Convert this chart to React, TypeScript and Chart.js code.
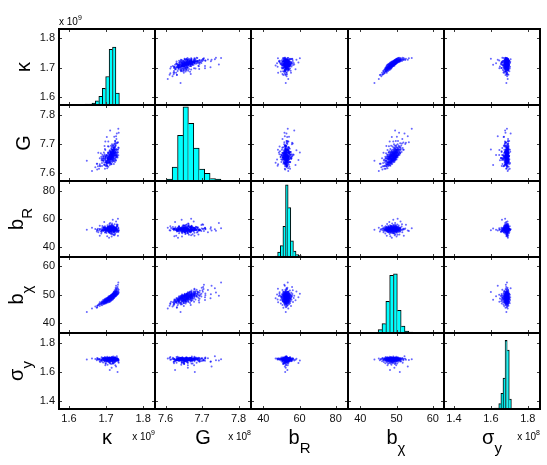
import { useEffect, useRef } from "react";
import { Chart, registerables } from "chart.js";

Chart.register(...registerables);

// Axis limits and ticks for the five parameters
// (kappa in units of 1e9, G in units of 1e8, b_R, b_chi, sigma_y in units of 1e8)
const AXIS_MIN = [1.573, 7.571, 33.2, 36.6, 1.346];
const AXIS_MAX = [1.832, 7.834, 86.8, 63.1, 1.866];
const KAPPA_TICKS = [1.6, 1.7, 1.8];
const G_TICKS = [7.6, 7.7, 7.8];
const BR_TICKS = [40, 60, 80];
const BCHI_TICKS = [40, 50, 60];
const SIGMA_TICKS = [1.4, 1.6, 1.8];

// Axis names (main symbol + subscript) and the power-of-ten multipliers
const LABEL_MAIN = ["κ", "G", "b", "b", "σ"];
const LABEL_SUB = ["", "", "R", "χ", "y"];
const EXPONENTS = ["9", "8", "", "", "8"];

// Posterior samples, one entry per draw
const B_CHI = [
  43.9, 45.1, 45.4, 45.8,
  46.0, 46.1, 46.3, 46.4, 46.5, 46.6, 46.7, 46.8, 46.9, 46.9,
  47.0, 47.0, 47.1, 47.1, 47.1, 47.2, 47.2, 47.2, 47.3, 47.3, 47.3, 47.4, 47.4, 47.4, 47.5, 47.5, 47.5,
  47.5, 47.6, 47.6, 47.6, 47.7, 47.7, 47.7, 47.7, 47.8, 47.8, 47.8, 47.8, 47.9, 47.9, 47.9, 47.9,
  48.0, 48.0, 48.0, 48.0, 48.0, 48.1, 48.1, 48.1, 48.1, 48.1, 48.2, 48.2, 48.2, 48.2, 48.2,
  48.3, 48.3, 48.3, 48.3, 48.3, 48.4, 48.4, 48.4, 48.4, 48.4, 48.4, 48.5, 48.5, 48.5, 48.5, 48.5, 48.5,
  48.6, 48.6, 48.6, 48.6, 48.6, 48.6, 48.7, 48.7, 48.7, 48.7, 48.7, 48.8, 48.8, 48.8, 48.8, 48.8, 48.8,
  48.9, 48.9, 48.9, 48.9, 48.9, 49.0, 49.0, 49.0, 49.0, 49.0,
  49.1, 49.1, 49.1, 49.1, 49.1, 49.1, 49.2, 49.2, 49.2, 49.2, 49.2, 49.2, 49.3, 49.3, 49.3, 49.3, 49.3, 49.3,
  49.4, 49.4, 49.4, 49.4, 49.4, 49.4, 49.5, 49.5, 49.5, 49.5, 49.5, 49.5, 49.6, 49.6, 49.6, 49.6, 49.6, 49.6,
  49.7, 49.7, 49.7, 49.7, 49.7, 49.8, 49.8, 49.8, 49.8, 49.8, 49.9, 49.9, 49.9, 49.9, 49.9,
  50.0, 50.0, 50.0, 50.0, 50.0, 50.1, 50.1, 50.1, 50.1, 50.1,
  50.2, 50.2, 50.2, 50.3, 50.3, 50.3, 50.4, 50.4, 50.4, 50.5, 50.5, 50.6, 50.6, 50.7, 50.7,
  50.8, 50.8, 50.9, 50.9, 51.0, 51.0, 51.1, 51.1,
  51.3, 51.4, 51.6, 51.7, 51.9, 52.0, 52.2, 52.6, 53.1, 54.2,
  45.6, 46.2, 46.5, 46.7, 46.9, 47.0, 47.2, 47.3, 47.4, 47.5, 47.6, 47.7, 47.8, 47.8, 47.9, 47.9, 47.9,
  48.0, 48.1, 48.1, 48.2, 48.2, 48.3, 48.3, 48.4, 48.4, 48.4, 48.5, 48.5, 48.5, 48.6, 48.6, 48.6,
  48.7, 48.7, 48.7, 48.8, 48.8, 48.8, 48.9, 48.9, 48.9, 49.0, 49.0, 49.0,
  49.1, 49.1, 49.1, 49.2, 49.2, 49.2, 49.2, 49.3, 49.3, 49.3, 49.3, 49.4, 49.4, 49.4, 49.4,
  49.5, 49.5, 49.5, 49.5, 49.6, 49.6, 49.6, 49.6, 49.7, 49.7, 49.7, 49.8, 49.8, 49.8,
  49.9, 49.9, 49.9, 50.0, 50.0, 50.0, 50.1, 50.1,
  50.2, 50.2, 50.3, 50.3, 50.4, 50.4, 50.5, 50.5, 50.6, 50.7, 50.8, 50.9, 51.0, 51.2, 51.5, 51.8, 52.4, 53.4,
];

const KAPPA = [
  1.648, 1.662, 1.675, 1.671,
  1.683, 1.676, 1.689, 1.679, 1.684, 1.693, 1.681, 1.695, 1.687, 1.699,
  1.690, 1.697, 1.686, 1.701, 1.694, 1.689, 1.704, 1.696, 1.683, 1.699, 1.706, 1.692, 1.700, 1.709, 1.695, 1.688, 1.703,
  1.698, 1.710, 1.693, 1.701, 1.705, 1.690, 1.712, 1.699, 1.703, 1.694, 1.708, 1.700, 1.714, 1.697, 1.705, 1.702,
  1.706, 1.695, 1.711, 1.700, 1.709, 1.703, 1.714, 1.698, 1.707, 1.692, 1.710, 1.704, 1.716, 1.701, 1.708,
  1.697, 1.712, 1.705, 1.718, 1.703, 1.709, 1.700, 1.714, 1.706, 1.711, 1.696, 1.713, 1.704, 1.719, 1.708, 1.701, 1.715,
  1.707, 1.712, 1.699, 1.717, 1.710, 1.704, 1.714, 1.708, 1.720, 1.702, 1.711, 1.716, 1.706, 1.713, 1.709, 1.721, 1.703,
  1.712, 1.718, 1.707, 1.715, 1.710, 1.719, 1.705, 1.714, 1.722, 1.711,
  1.716, 1.709, 1.720, 1.713, 1.706, 1.718, 1.712, 1.723, 1.715, 1.708, 1.719, 1.714, 1.721, 1.710, 1.717, 1.725, 1.713, 1.716,
  1.718, 1.711, 1.724, 1.715, 1.720, 1.707, 1.722, 1.716, 1.713, 1.726, 1.719, 1.714, 1.717, 1.724, 1.711, 1.720, 1.715, 1.727,
  1.721, 1.714, 1.725, 1.718, 1.723, 1.716, 1.728, 1.720, 1.713, 1.724, 1.722, 1.717, 1.729, 1.719, 1.725,
  1.721, 1.715, 1.727, 1.723, 1.730, 1.718, 1.726, 1.722, 1.731, 1.720,
  1.724, 1.729, 1.719, 1.727, 1.722, 1.732, 1.721, 1.728, 1.725, 1.733, 1.723, 1.726, 1.730, 1.720, 1.734,
  1.727, 1.724, 1.731, 1.726, 1.729, 1.722, 1.733, 1.727,
  1.725, 1.731, 1.728, 1.734, 1.726, 1.732, 1.729, 1.731, 1.727, 1.733,
  1.676, 1.678, 1.688, 1.683, 1.693, 1.689, 1.697, 1.692, 1.700, 1.695, 1.702, 1.697, 1.704, 1.698, 1.703, 1.699, 1.705,
  1.705, 1.700, 1.707, 1.706, 1.702, 1.708, 1.703, 1.709, 1.704, 1.707, 1.711, 1.705, 1.708, 1.710, 1.706, 1.712,
  1.707, 1.713, 1.710, 1.712, 1.708, 1.714, 1.709, 1.714, 1.711, 1.709, 1.715, 1.712,
  1.714, 1.710, 1.716, 1.711, 1.715, 1.717, 1.713, 1.712, 1.716, 1.714, 1.718, 1.711, 1.717, 1.715, 1.719,
  1.713, 1.716, 1.718, 1.720, 1.714, 1.717, 1.719, 1.721, 1.715, 1.718, 1.720, 1.716, 1.721, 1.719,
  1.715, 1.722, 1.718, 1.720, 1.723, 1.717, 1.721, 1.719,
  1.722, 1.718, 1.724, 1.720, 1.723, 1.721, 1.725, 1.719, 1.724, 1.722, 1.726, 1.721, 1.725, 1.727, 1.723, 1.728, 1.726, 1.732,
];

const G = [
  7.641, 7.606, 7.631, 7.619,
  7.650, 7.611, 7.633, 7.669, 7.622, 7.645, 7.613, 7.635, 7.655, 7.623,
  7.643, 7.613, 7.667, 7.631, 7.650, 7.623, 7.639, 7.692, 7.629, 7.655, 7.620, 7.650, 7.636, 7.663, 7.628, 7.646, 7.615,
  7.678, 7.634, 7.655, 7.625, 7.645, 7.662, 7.631, 7.651, 7.623, 7.670, 7.637, 7.656, 7.629, 7.644, 7.691, 7.634,
  7.649, 7.626, 7.661, 7.641, 7.674, 7.633, 7.654, 7.708, 7.638, 7.657, 7.626, 7.650, 7.666, 7.637, 7.653,
  7.682, 7.633, 7.646, 7.660, 7.624, 7.656, 7.640, 7.671, 7.632, 7.650, 7.664, 7.638, 7.655, 7.693, 7.644, 7.660, 7.630,
  7.669, 7.648, 7.659, 7.637, 7.677, 7.643, 7.654, 7.634, 7.665, 7.723, 7.647, 7.662, 7.642, 7.673, 7.652, 7.630, 7.659,
  7.668, 7.647, 7.690, 7.641, 7.657, 7.639, 7.666, 7.655, 7.679, 7.646,
  7.661, 7.636, 7.672, 7.652, 7.708, 7.644, 7.665, 7.642, 7.686, 7.651, 7.669, 7.656, 7.640, 7.662, 7.677, 7.648, 7.665, 7.698,
  7.652, 7.673, 7.637, 7.661, 7.684, 7.646, 7.670, 7.656, 7.693, 7.644, 7.666, 7.651, 7.678, 7.659, 7.746, 7.649, 7.670, 7.642,
  7.665, 7.683, 7.654, 7.674, 7.648, 7.691, 7.658, 7.671, 7.646, 7.709, 7.665, 7.679, 7.653, 7.695, 7.661,
  7.676, 7.645, 7.670, 7.688, 7.657, 7.679, 7.660, 7.724, 7.652, 7.670,
  7.686, 7.658, 7.674, 7.653, 7.698, 7.670, 7.683, 7.665, 7.709, 7.660, 7.679, 7.693, 7.664, 7.676, 7.738,
  7.661, 7.690, 7.680, 7.671, 7.702, 7.666, 7.687, 7.677,
  7.694, 7.671, 7.716, 7.685, 7.704, 7.679, 7.735, 7.703, 7.726, 7.752,
  7.631, 7.622, 7.642, 7.624, 7.640, 7.650, 7.627, 7.642, 7.636, 7.658, 7.629, 7.649, 7.637, 7.654, 7.635, 7.646, 7.670,
  7.650, 7.635, 7.655, 7.645, 7.661, 7.635, 7.651, 7.657, 7.642, 7.668, 7.646, 7.651, 7.662, 7.641, 7.657, 7.673,
  7.647, 7.662, 7.638, 7.656, 7.645, 7.669, 7.652, 7.662, 7.642, 7.660, 7.649, 7.668,
  7.647, 7.658, 7.673, 7.653, 7.665, 7.644, 7.658, 7.669, 7.651, 7.662, 7.657, 7.649, 7.665, 7.679, 7.656,
  7.662, 7.652, 7.673, 7.645, 7.668, 7.657, 7.662, 7.685, 7.656, 7.671, 7.651, 7.667, 7.654, 7.678,
  7.662, 7.670, 7.652, 7.675, 7.660, 7.667, 7.658, 7.680,
  7.670, 7.658, 7.680, 7.664, 7.676, 7.659, 7.671, 7.688, 7.665, 7.681, 7.670, 7.688, 7.668, 7.682, 7.701, 7.679, 7.699, 7.705,
];

const B_R = [
  52.4, 53.8, 51.1, 52.9, 55.3, 52.1, 53.5, 50.6, 52.7, 54.2, 51.9, 52.5, 49.7, 53.1, 52.2, 54.8, 51.4, 52.8, 53.9, 52.0,
  53.3, 52.6, 48.2, 52.1, 54.4, 51.8, 53.0, 56.4, 52.3, 50.9, 53.7, 52.5, 51.5, 54.0, 52.9, 53.4, 55.1, 52.0, 51.0, 52.7,
  51.9, 54.6, 52.4, 53.2, 50.4, 52.8, 53.9, 52.2, 57.8, 51.3, 52.6, 54.1, 52.0, 49.5, 53.6, 52.9, 51.7, 53.3, 55.6, 52.4,
  52.7, 50.8, 53.5, 52.1, 54.3, 52.9, 47.9, 53.0, 52.3, 55.0, 51.6, 53.8, 52.5, 51.2, 54.5, 52.2, 53.1, 50.2, 52.8, 53.6,
  53.0, 52.3, 54.9, 51.4, 52.6, 53.7, 46.8, 52.0, 53.2, 51.8, 56.8, 52.9, 54.2, 50.7, 52.4, 53.4, 52.1, 55.4, 51.9, 52.7,
  52.5, 54.0, 51.5, 52.8, 53.3, 49.9, 52.2, 54.7, 52.6, 51.1, 53.9, 59.4, 52.0, 53.5, 50.5, 52.9, 54.4, 51.7, 53.1, 52.3,
  53.6, 51.3, 52.7, 55.8, 52.1, 53.0, 50.0, 52.4, 54.3, 52.8, 48.6, 53.4, 51.9, 52.6, 54.1, 51.0, 53.8, 52.2, 57.1, 52.9,
  52.0, 53.2, 51.6, 54.6, 52.5, 49.2, 53.7, 52.3, 51.4, 55.2, 52.8, 53.1, 50.8, 52.4, 54.9, 52.1, 53.5, 51.8, 47.6, 52.6,
  53.9, 52.2, 50.3, 52.9, 54.2, 51.2, 53.3, 52.7, 56.1, 52.0, 53.6, 51.5, 60.2, 52.4, 54.5, 52.8, 50.9, 53.0, 52.3, 55.5,
  52.6, 51.7, 53.4, 49.0, 52.1, 54.0, 52.9, 51.3, 53.7, 58.3, 52.5, 54.7, 50.6, 52.2, 53.1, 48.1, 52.8, 55.9, 51.9, 53.5,
  52.5, 53.1, 51.8, 52.9, 53.6, 52.2, 54.1, 52.7, 51.5, 53.3, 52.0, 53.8, 52.4, 50.9, 53.0, 52.6, 54.4, 51.9, 52.8, 53.4,
  52.3, 51.2, 53.7, 52.1, 54.0, 52.9, 50.6, 53.2, 52.5, 55.0, 51.7, 52.8, 53.5, 52.0, 54.6, 52.4, 53.1, 51.4, 52.7, 53.9,
  52.2, 53.3, 50.3, 52.6, 54.2, 51.9, 53.0, 52.4, 55.4, 52.1, 53.6, 51.6, 52.9, 53.2, 49.8, 52.5, 54.8, 52.0, 53.4, 51.8,
  52.7, 53.8, 52.3, 51.1, 54.3, 52.6, 53.0, 52.2, 55.8, 51.5, 53.1, 52.8, 50.8, 53.5, 52.4, 54.0, 51.9, 52.6, 53.7, 52.1,
  54.5, 52.3, 51.3, 53.2, 52.9, 48.9, 53.9, 52.5, 51.7, 54.1, 52.0, 53.4, 52.7, 51.0, 53.6, 52.2, 56.3, 52.8, 53.3, 51.6,
];

const SIGMA_Y = [
  1.684, 1.691, 1.679, 1.688, 1.672, 1.695, 1.681, 1.686, 1.668, 1.693, 1.683, 1.690, 1.677, 1.659, 1.689, 1.702, 1.680, 1.694, 1.685, 1.671,
  1.692, 1.678, 1.687, 1.683, 1.696, 1.665, 1.681, 1.689, 1.676, 1.700, 1.685, 1.646, 1.691, 1.682, 1.673, 1.688, 1.694, 1.679, 1.656, 1.686,
  1.680, 1.689, 1.697, 1.684, 1.670, 1.692, 1.678, 1.687, 1.683, 1.661, 1.695, 1.681, 1.704, 1.690, 1.676, 1.686, 1.693, 1.612, 1.682, 1.688,
  1.687, 1.675, 1.693, 1.681, 1.689, 1.666, 1.684, 1.698, 1.679, 1.691, 1.685, 1.657, 1.690, 1.683, 1.672, 1.694, 1.680, 1.688, 1.701, 1.677,
  1.683, 1.694, 1.678, 1.688, 1.649, 1.686, 1.692, 1.680, 1.669, 1.690, 1.684, 1.697, 1.676, 1.689, 1.663, 1.682, 1.695, 1.685, 1.674, 1.691,
  1.689, 1.680, 1.696, 1.684, 1.673, 1.691, 1.678, 1.687, 1.705, 1.682, 1.693, 1.660, 1.686, 1.679, 1.690, 1.667, 1.684, 1.694, 1.681, 1.688,
  1.681, 1.692, 1.686, 1.675, 1.690, 1.683, 1.698, 1.628, 1.688, 1.679, 1.694, 1.684, 1.670, 1.689, 1.682, 1.654, 1.691, 1.686, 1.677, 1.693,
  1.690, 1.677, 1.685, 1.693, 1.681, 1.688, 1.664, 1.696, 1.683, 1.689, 1.674, 1.692, 1.686, 1.703, 1.680, 1.687, 1.645, 1.684, 1.691, 1.678,
  1.686, 1.694, 1.680, 1.689, 1.671, 1.683, 1.697, 1.685, 1.690, 1.658, 1.682, 1.693, 1.677, 1.688, 1.684, 1.699, 1.669, 1.687, 1.681, 1.692,
  1.685, 1.679, 1.691, 1.684, 1.600, 1.688, 1.676, 1.695, 1.682, 1.690, 1.673, 1.686, 1.693, 1.662, 1.680, 1.689, 1.707, 1.683, 1.637, 1.687,
  1.686, 1.691, 1.680, 1.688, 1.694, 1.683, 1.677, 1.690, 1.685, 1.696, 1.682, 1.689, 1.674, 1.692, 1.687, 1.681, 1.693, 1.679, 1.688, 1.684,
  1.690, 1.678, 1.695, 1.686, 1.669, 1.689, 1.683, 1.697, 1.680, 1.691, 1.685, 1.692, 1.676, 1.688, 1.682, 1.694, 1.687, 1.665, 1.690, 1.684,
  1.681, 1.693, 1.686, 1.679, 1.691, 1.688, 1.699, 1.683, 1.677, 1.689, 1.692, 1.685, 1.680, 1.695, 1.687, 1.672, 1.690, 1.684, 1.688, 1.682,
  1.689, 1.678, 1.693, 1.686, 1.691, 1.681, 1.687, 1.696, 1.683, 1.658, 1.690, 1.685, 1.679, 1.692, 1.688, 1.684, 1.675, 1.694, 1.686, 1.689,
  1.683, 1.691, 1.687, 1.680, 1.698, 1.685, 1.690, 1.677, 1.688, 1.693, 1.686, 1.682, 1.692, 1.689, 1.671, 1.687, 1.694, 1.684, 1.690, 1.681,
];

// Marginal histograms on the diagonal: bin centres and counts
const KAPPA_BINS = [1.6479, 1.6572, 1.6664, 1.6757, 1.685, 1.6942, 1.7035, 1.7128, 1.722, 1.7313];
const KAPPA_COUNTS = [2, 2, 4, 9, 18, 35, 60, 117, 122, 25];
const G_BINS = [7.6104, 7.6253, 7.6402, 7.6551, 7.6699, 7.6848, 7.6997, 7.7146, 7.7295, 7.7443];
const G_COUNTS = [3, 22, 72, 117, 91, 52, 19, 12, 4, 3];
const BR_BINS = [47.19, 48.64, 50.1, 51.55, 53.01, 54.46, 55.92, 57.37, 58.83, 60.28];
const BR_COUNTS = [2, 10, 23, 62, 146, 100, 33, 12, 5, 3];
const BCHI_BINS = [44.39, 45.45, 46.51, 47.57, 48.63, 49.69, 50.75, 51.81, 52.87, 53.93];
const BCHI_COUNTS = [1, 7, 19, 64, 117, 120, 46, 14, 4, 2];
const SIGMA_BINS = [1.6027, 1.6141, 1.6255, 1.6369, 1.6483, 1.6597, 1.6711, 1.6825, 1.6939, 1.7053];
const SIGMA_COUNTS = [1, 1, 2, 2, 11, 32, 63, 140, 120, 20];
const HIST_TOP = [160, 120, 154, 154, 155];

const SAMPLES = [KAPPA, G, B_R, B_CHI, SIGMA_Y];
const TICKS = [KAPPA_TICKS, G_TICKS, BR_TICKS, BCHI_TICKS, SIGMA_TICKS];
const HIST_BINS = [KAPPA_BINS, G_BINS, BR_BINS, BCHI_BINS, SIGMA_BINS];
const HIST_COUNTS = [KAPPA_COUNTS, G_COUNTS, BR_COUNTS, BCHI_COUNTS, SIGMA_COUNTS];

// Page geometry of the 5x5 grid
const PAGE_W = 547;
const PAGE_H = 465;
const COL_EDGES = [59, 155, 251, 348, 444, 540];
const ROW_EDGES = [29, 105, 181, 257, 333, 409];
const FONT = '"Liberation Sans", Arial, Helvetica, sans-serif';

function drawName(ctx: CanvasRenderingContext2D, main: string, sub: string) {
  ctx.font = `20px ${FONT}`;
  const wm = ctx.measureText(main).width;
  ctx.font = `15px ${FONT}`;
  const ws = sub ? ctx.measureText(sub).width : 0;
  const x0 = -(wm + ws) / 2;
  ctx.textAlign = "left";
  ctx.textBaseline = "alphabetic";
  ctx.font = `20px ${FONT}`;
  ctx.fillText(main, x0, 0);
  if (sub) {
    ctx.font = `15px ${FONT}`;
    ctx.fillText(sub, x0 + wm, 9);
  }
}

function drawExponent(ctx: CanvasRenderingContext2D, exp: string, x: number, y: number, alignRight: boolean) {
  ctx.textAlign = "left";
  ctx.textBaseline = "alphabetic";
  ctx.font = `10px ${FONT}`;
  const w1 = ctx.measureText("x 10").width;
  ctx.font = `7px ${FONT}`;
  const w2 = ctx.measureText(exp).width;
  const x0 = alignRight ? x - w1 - w2 : x;
  ctx.font = `10px ${FONT}`;
  ctx.fillText("x 10", x0, y);
  ctx.font = `7px ${FONT}`;
  ctx.fillText(exp, x0 + w1, y - 5);
}

const panelDecor = {
  id: "panelDecor",
  afterDraw(chart: any, _args: any, opts: any) {
    const { row, col } = opts;
    const ctx: CanvasRenderingContext2D = chart.ctx;
    const a = chart.chartArea;
    const xs = chart.scales.x;
    const ys = chart.scales[row === col ? "yv" : "y"];
    ctx.save();

    // inward tick marks on all four sides
    ctx.strokeStyle = "#3a3a3a";
    ctx.lineWidth = 1;
    ctx.beginPath();
    for (const t of TICKS[col]) {
      const px = Math.round(xs.getPixelForValue(t)) + 0.5;
      ctx.moveTo(px, a.bottom);
      ctx.lineTo(px, a.bottom - 3);
      ctx.moveTo(px, a.top);
      ctx.lineTo(px, a.top + 3);
    }
    for (const t of TICKS[row]) {
      const py = Math.round(ys.getPixelForValue(t)) + 0.5;
      ctx.moveTo(a.left, py);
      ctx.lineTo(a.left + 3, py);
      ctx.moveTo(a.right, py);
      ctx.lineTo(a.right - 3, py);
    }
    ctx.stroke();

    // panel frame
    ctx.strokeStyle = "#000";
    ctx.lineWidth = 2;
    ctx.strokeRect(a.left, a.top, a.right - a.left, a.bottom - a.top);

    ctx.fillStyle = "#000";
    if (col === 0) {
      ctx.save();
      const baseX = LABEL_SUB[row] ? 23 : 30;
      ctx.translate(baseX, (a.top + a.bottom) / 2);
      ctx.rotate(-Math.PI / 2);
      drawName(ctx, LABEL_MAIN[row], LABEL_SUB[row]);
      ctx.restore();
    }
    if (row === 4) {
      const top = ROW_EDGES[4] - 2;
      ctx.save();
      ctx.translate((a.left + a.right) / 2, 444 - top);
      drawName(ctx, LABEL_MAIN[col], LABEL_SUB[col]);
      ctx.restore();
      if (EXPONENTS[col]) drawExponent(ctx, EXPONENTS[col], a.right, 440 - top, true);
    }
    if (row === 0 && col === 0 && EXPONENTS[0]) {
      drawExponent(ctx, EXPONENTS[0], a.left, 25, false);
    }
    ctx.restore();
  },
};

function valueAxis(v: number, shown: boolean, horizontal: boolean) {
  return {
    type: "linear" as const,
    position: horizontal ? ("bottom" as const) : ("left" as const),
    min: AXIS_MIN[v],
    max: AXIS_MAX[v],
    offset: false,
    display: shown,
    grid: { display: false, drawTicks: false },
    border: { display: false },
    ticks: {
      font: { family: FONT, size: 11 },
      color: "#111",
      padding: horizontal ? 3 : 4,
      autoSkip: false,
      maxRotation: 0,
      callback: (value: any) => String(value),
    },
    afterBuildTicks: (s: any) => {
      s.ticks = TICKS[v].map((value) => ({ value }));
    },
    afterFit: (s: any) => {
      s.paddingTop = 0;
      s.paddingBottom = 0;
      s.paddingLeft = 0;
      s.paddingRight = 0;
      if (!shown) return;
      if (horizontal) s.height = PAGE_H - ROW_EDGES[5];
      else s.width = COL_EDGES[0];
    },
  };
}

function buildConfig(row: number, col: number): any {
  const diag = row === col;
  const padding = {
    left: col === 0 ? 0 : 2,
    right: col === 4 ? PAGE_W - COL_EDGES[5] : 2,
    top: row === 0 ? ROW_EDGES[0] : 2,
    bottom: row === 4 ? 0 : 2,
  };
  const common = {
    responsive: false,
    maintainAspectRatio: false,
    animation: false,
    devicePixelRatio: 1,
    events: [],
    layout: { padding, autoPadding: false },
    plugins: {
      legend: { display: false },
      tooltip: { enabled: false },
      panelDecor: { row, col },
    },
  };
  if (diag) {
    const counts = HIST_COUNTS[col];
    const last = counts.length - 1;
    return {
      type: "bar",
      data: {
        datasets: [
          {
            data: HIST_BINS[col].map((x, i) => ({ x, y: counts[i] })),
            xAxisID: "x",
            yAxisID: "y",
            backgroundColor: "#00ffff",
            borderColor: "#000",
            borderSkipped: "start",
            barPercentage: 1,
            categoryPercentage: 1,
            borderWidth: (c: any) => {
              const i = c.dataIndex;
              return {
                top: 1,
                bottom: 0,
                left: i === 0 || counts[i] > counts[i - 1] ? 1 : 0,
                right: i === last || counts[i] >= counts[i + 1] ? 1 : 0,
              };
            },
          },
        ],
      },
      options: {
        ...common,
        scales: {
          x: valueAxis(col, row === 4, true),
          y: { type: "linear", min: 0, max: HIST_TOP[col], display: false },
          yv: valueAxis(row, col === 0, false),
        },
      },
      plugins: [panelDecor],
    };
  }
  const xs = SAMPLES[col];
  const ys = SAMPLES[row];
  return {
    type: "scatter",
    data: {
      datasets: [
        {
          data: xs.map((x, i) => ({ x, y: ys[i] })),
          pointRadius: 1,
          pointHoverRadius: 0,
          pointBorderWidth: 0,
          pointBackgroundColor: "rgba(0, 0, 255, 0.6)",
          showLine: false,
        },
      ],
    },
    options: {
      ...common,
      scales: {
        x: valueAxis(col, row === 4, true),
        y: valueAxis(row, col === 0, false),
      },
    },
    plugins: [panelDecor],
  };
}

function Panel({ row, col }: { row: number; col: number }) {
  const ref = useRef<HTMLCanvasElement>(null);
  const left = col === 0 ? 0 : COL_EDGES[col] - 2;
  const right = col === 4 ? PAGE_W : COL_EDGES[col + 1] + 2;
  const top = row === 0 ? 0 : ROW_EDGES[row] - 2;
  const bottom = row === 4 ? PAGE_H : ROW_EDGES[row + 1] + 2;
  const w = right - left;
  const h = bottom - top;

  useEffect(() => {
    const chart = new Chart(ref.current as HTMLCanvasElement, buildConfig(row, col));
    return () => chart.destroy();
  }, [row, col]);

  return (
    <canvas
      ref={ref}
      width={w}
      height={h}
      style={{ position: "absolute", left, top, width: w, height: h }}
    />
  );
}

export default function App() {
  const cells: JSX.Element[] = [];
  for (let r = 0; r < 5; r++) {
    for (let c = 0; c < 5; c++) {
      cells.push(<Panel key={`${r}-${c}`} row={r} col={c} />);
    }
  }
  return (
    <div
      style={{
        position: "fixed",
        left: 0,
        top: 0,
        width: PAGE_W,
        height: PAGE_H,
        background: "#fff",
        overflow: "hidden",
      }}
    >
      {cells}
    </div>
  );
}
